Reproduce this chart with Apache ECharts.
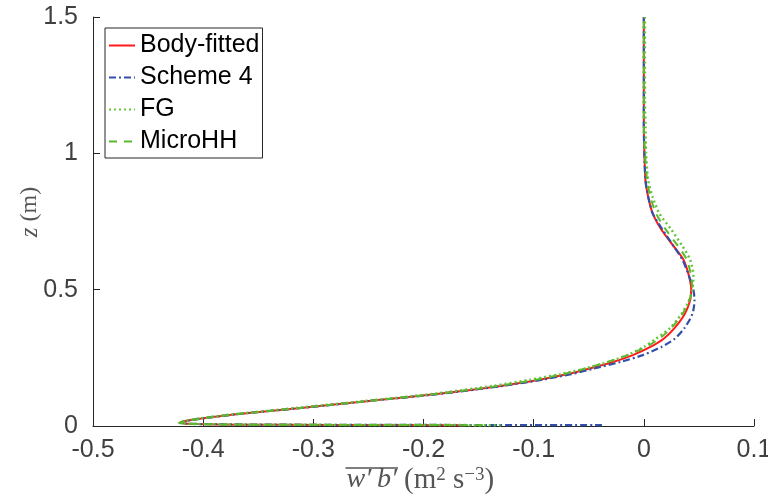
<!DOCTYPE html>
<html>
<head>
<meta charset="utf-8">
<script src="https://cdn.jsdelivr.net/npm/echarts@6/dist/echarts.min.js"></script>
<style>
  html, body { margin: 0; padding: 0; background: #fff; }
  #chart { width: 768px; height: 499px; }
</style>
</head>
<body>
<div id="chart"></div>
<script>
// Heights z (m)
const zValues = [0.003, 0.004, 0.005, 0.007, 0.009, 0.012, 0.018, 0.028, 0.043, 0.067, 0.092, 0.117, 0.147,
  0.17, 0.19, 0.21, 0.235, 0.26, 0.29, 0.32, 0.36, 0.41, 0.46, 0.50, 0.55, 0.61, 0.66, 0.72, 0.78,
  0.84, 0.90, 1.0, 1.1, 1.2, 1.3, 1.4, 1.5];

// Buoyancy flux w'b' (m^2 s^-3) for each scheme
const bodyFitted = [-0.164, -0.29, -0.37, -0.405, -0.417, -0.421, -0.416, -0.400, -0.370, -0.309, -0.249, -0.188, -0.130,
  -0.095, -0.070, -0.050, -0.028, -0.010, 0.006, 0.018, 0.028, 0.037, 0.042, 0.043, 0.041, 0.036, 0.027, 0.016, 0.008,
  0.004, 0.0015, 0.0005, 0.0, 0.0, 0.0, 0.0, 0.0];
const scheme4 = [-0.038, -0.22, -0.34, -0.40, -0.416, -0.421, -0.416, -0.400, -0.370, -0.309, -0.249, -0.187, -0.128,
  -0.092, -0.066, -0.046, -0.021, -0.001, 0.016, 0.028, 0.037, 0.044, 0.046, 0.045, 0.041, 0.035, 0.027, 0.017, 0.008,
  0.004, 0.0015, 0.0005, 0.0, 0.0, 0.0, 0.0, 0.0];
const fg = [-0.13, -0.27, -0.36, -0.405, -0.418, -0.422, -0.418, -0.403, -0.373, -0.313, -0.253, -0.193, -0.137,
  -0.103, -0.076, -0.054, -0.032, -0.015, 0.0, 0.011, 0.024, 0.034, 0.041, 0.044, 0.045, 0.042, 0.035, 0.025, 0.014,
  0.008, 0.004, 0.002, 0.0015, 0.001, 0.001, 0.001, 0.001];
const microHH = [-0.146, -0.27, -0.36, -0.405, -0.417, -0.421, -0.416, -0.400, -0.371, -0.310, -0.250, -0.189, -0.132,
  -0.098, -0.073, -0.054, -0.033, -0.015, 0.002, 0.014, 0.025, 0.035, 0.041, 0.044, 0.043, 0.039, 0.031, 0.020, 0.011,
  0.006, 0.003, 0.001, 0.0, 0.0, 0.0, 0.0, 0.0];

const seriesNames = ['Body-fitted', 'Scheme 4', 'FG', 'MicroHH'];
const xTicks = [-0.5, -0.4, -0.3, -0.2, -0.1, 0, 0.1];
const yTicks = [0, 0.5, 1, 1.5];

function pairs(xs) { return xs.map((x, i) => [x, zValues[i]]); }

const styles = [
  { color: '#ff1a1a', type: 'solid', width: 2 },
  { color: '#3350a8', type: [7, 3, 2, 3], width: 2.2 },
  { color: '#66c43a', type: [2, 3], width: 2.5 },
  { color: '#5cb82e', type: [8, 7], width: 2 }
];
const datasets = [bodyFitted, scheme4, fg, microHH];

const sans = 'Liberation Sans, Arial, Helvetica, sans-serif';
const serif = 'Liberation Serif, Times New Roman, serif';
const labelGray = '#555555';

// measure the italic part of the x-axis title to place its overline
const measureCtx = document.createElement('canvas').getContext('2d');
const italicFont = 'italic 28px ' + serif;
measureCtx.font = italicFont;
const wbText = 'w′\u2009b′';
const wbWidth = measureCtx.measureText(wbText).width;
const xTitleSplit = 397;   // right edge of the overlined part
const xTitleBase = 494;    // baseline of the title

const chart = echarts.init(document.getElementById('chart'), null, { renderer: 'canvas' });

chart.setOption({
  animation: false,
  backgroundColor: '#ffffff',
  grid: { left: 93, right: 14, top: 17, bottom: 73, containLabel: false, outerBoundsMode: 'none' },
  xAxis: {
    type: 'value', min: xTicks[0], max: xTicks[xTicks.length - 1], interval: 0.1,
    axisLine: { show: true, onZero: false, lineStyle: { color: '#262626', width: 1 } },
    axisTick: { show: true, inside: true, length: 7, lineStyle: { color: '#262626' } },
    axisLabel: { fontSize: 25, color: '#404040', fontFamily: sans, margin: 12,
      formatter: v => String(Math.round(v * 10) / 10) },
    splitLine: { show: false }
  },
  yAxis: {
    type: 'value', min: yTicks[0], max: yTicks[yTicks.length - 1], interval: 0.5,
    axisLine: { show: true, onZero: false, lineStyle: { color: '#262626', width: 1 } },
    axisTick: { show: true, inside: true, length: 7, lineStyle: { color: '#262626' } },
    axisLabel: { fontSize: 25, color: '#404040', fontFamily: sans, margin: 15,
      formatter: v => String(Math.round(v * 10) / 10) },
    splitLine: { show: false }
  },
  legend: {
    orient: 'vertical', left: 105, top: 28,
    padding: [5, 3, 4, 3],
    itemWidth: 26, itemHeight: 12, itemGap: 7,
    itemStyle: { opacity: 0, borderWidth: 0 },
    backgroundColor: '#ffffff', borderColor: '#262626', borderWidth: 1,
    textStyle: { fontSize: 25, lineHeight: 25, color: '#000000', fontFamily: sans },
    data: seriesNames
  },
  graphic: [
    {
      type: 'text',
      style: {
        x: xTitleSplit, y: xTitleBase, align: 'right', verticalAlign: 'bottom',
        text: wbText, font: italicFont, fill: labelGray
      }
    },
    {
      type: 'line',
      shape: { x1: xTitleSplit - wbWidth - 1, y1: 468, x2: xTitleSplit + 1, y2: 468 },
      style: { stroke: labelGray, lineWidth: 1.5 }
    },
    {
      type: 'text',
      style: {
        x: xTitleSplit + 7, y: xTitleBase + 1, align: 'left', verticalAlign: 'bottom',
        text: '(m{s|2} s{s|−3})',
        font: '29px ' + serif,
        fill: labelGray,
        rich: {
          s: { fontSize: 19, fontFamily: serif, verticalAlign: 'top', fill: labelGray }
        }
      }
    },
    {
      type: 'text',
      x: 30, y: 212, rotation: Math.PI / 2,
      style: {
        x: 0, y: 0, align: 'center', verticalAlign: 'middle',
        text: '{i|z} (m)',
        font: '24px ' + serif,
        fill: labelGray,
        rich: { i: { fontSize: 25, fontStyle: 'italic', fontFamily: serif, fill: labelGray } }
      }
    }
  ],
  series: datasets.map((d, i) => ({
    name: seriesNames[i],
    type: 'line',
    data: pairs(d),
    showSymbol: false,
    symbol: 'none',
    smooth: 0.25,
    clip: false,
    lineStyle: { color: styles[i].color, type: styles[i].type, width: styles[i].width },
    itemStyle: { color: styles[i].color }
  }))
});
</script>
</body>
</html>
